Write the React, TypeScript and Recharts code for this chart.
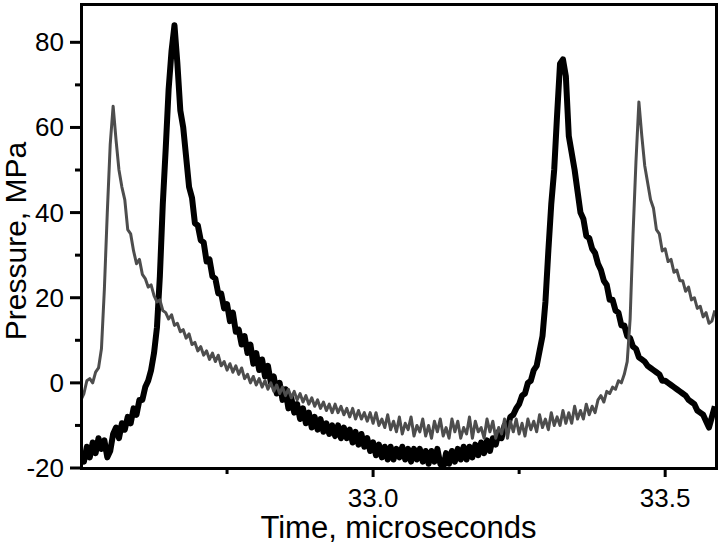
import { LineChart, Line, XAxis, YAxis } from "recharts";

// sampling grid of the traces (microseconds)
const T0 = 32.5;
const DT = 0.005;

// thick black trace, MPa
const blackTrace = [
  -16, -18.5, -15, -17.5, -14, -16.5, -13, -15.5, -13.5, -17.5,
  -16, -12, -10.5, -13, -9.5, -11, -8, -9.5, -6, -7.5,
  -4, -4, -1, 0.5, 3, 7, 13, 25, 42, 55,
  69, 78, 84, 75, 64, 60, 53, 46, 43.5, 37.5,
  37, 33.5, 33, 28.5, 29, 25, 24.5, 21, 21, 17.5,
  18.5, 14.5, 16.5, 12, 12.5, 9, 11, 7, 9, 4.5,
  7, 3, 5.5, 1.5, 4, 0, 1.5, -2.5, 0, -4,
  -1.5, -6, -3.5, -7, -5, -8.5, -6, -9.5, -7, -10.5,
  -8, -11, -8.5, -11.5, -9.5, -12, -10, -12.5, -10, -13,
  -10.5, -13, -11, -14, -11.5, -14.5, -12, -15, -13, -16,
  -14, -17, -14.5, -17.5, -15, -18, -15, -18, -15.5, -17.5,
  -15, -18, -15.5, -18.5, -15.5, -18, -15.5, -18.5, -16, -19,
  -16, -18.5, -15.5, -19, -20, -16.5, -19, -16, -18.5, -15.5,
  -18, -15, -18, -15, -17.5, -14.5, -17, -14, -16.5, -13.5,
  -16, -13, -14.5, -11.5, -13, -10, -10.5, -8, -7.5, -6,
  -5, -3, -2.5, 0, 0.5, 3, 4, 7.5, 11, 19,
  31, 42, 50, 63, 75, 76, 72, 58, 54, 50,
  45, 40, 38.5, 34.5, 34, 31.5, 30.5, 28, 26.5, 24,
  23, 19.5, 19.5, 17, 16.5, 13.5, 13.5, 11, 10.5, 8.5,
  8, 6, 5.5, 5, 4, 3.5, 3, 2.5, 2, 0.5,
  0.5, 0, -0.5, -1, -1.5, -2, -2.5, -3, -4, -4.5,
  -5, -6.5, -7, -7.5, -9, -10.5, -8, -5.5,
];

// thin grey trace, MPa
const greyTrace = [
  -4, -2.5, 0.5, 1, 0, 2.5, 3.5, 8, 22, 40,
  56, 65, 57, 50, 46, 43, 36, 35, 31, 28,
  29, 25.5, 24.5, 22.5, 23, 20.5, 19, 19.5, 17, 16.5,
  15, 16, 13.5, 14, 12, 12.5, 10.5, 11.5, 9, 9.5,
  7.5, 8.5, 6.5, 7.5, 5.5, 7, 5, 6.5, 4, 5,
  3, 4.5, 2.5, 4, 2, 3.5, 1, 2, 0, 1.5,
  -0.5, 1, -1, 0.5, -1.5, 0, -2, -0.5, -2.5, -1,
  -3, -1.5, -3.5, -2, -4, -2.5, -4.5, -3, -5, -3.5,
  -5.5, -4, -6, -4.5, -6.5, -5, -7, -5, -7, -5.5,
  -7.5, -6, -8, -6, -8.5, -6.5, -8.5, -7, -9, -7,
  -9.5, -7, -10, -8.5, -10.5, -7.5, -11, -9, -11.5, -8,
  -12, -9.5, -11, -8, -12.5, -10, -11.5, -8.5, -12.5, -10,
  -13, -9, -11.5, -8.5, -12.5, -10.5, -13, -8.5, -11.5, -9,
  -13, -10.5, -12, -8, -13, -9, -11.5, -10.5, -13, -8.5,
  -11.5, -9, -13, -10.5, -12, -8.5, -13, -9, -11.5, -8.5,
  -12, -9.5, -12.5, -8.5, -11, -9, -11.5, -7.5, -10.5, -8.5,
  -11, -7, -10, -8, -10, -6.5, -9.5, -7, -9.5, -5.5,
  -8.5, -6.5, -8.5, -5, -7.5, -5.5, -7, -4, -3, -4.5,
  -2, -2.5, -1, -1.5, 0.5, 0, 2, 5, 15, 35,
  52, 66, 58, 51, 47, 43, 41, 36, 35, 31,
  31.5, 28.5, 29, 26, 26.5, 24, 24, 21.5, 22.5, 19.5,
  20, 17.5, 18, 15.5, 16.5, 14, 14.5, 17,
];

const xDomain = [32.5, 33.587];
const yDomain = [-20, 89];
const xTicks = [32.75, 33.0, 33.25, 33.5];
const xLabelled = [33.0, 33.5];
const yTicks = [-20, -10, 0, 10, 20, 30, 40, 50, 60, 70, 80];
const yLabelled = [-20, 0, 20, 40, 60, 80];

const data = blackTrace.map((p, i) => ({
  t: +(T0 + i * DT).toFixed(3),
  black: p,
  grey: greyTrace[i],
}));

const FONT = "'Liberation Sans', Arial, sans-serif";

function XTick({ x, y, payload }: any) {
  const major = xLabelled.includes(payload.value);
  return (
    <g>
      <rect x={x - 1.5} y={y} width={3} height={major ? 9 : 6} fill="#000" />
      {major && (
        <text x={x} y={y + 39} textAnchor="middle" fontSize={26} fontFamily={FONT} fill="#000">
          {payload.value.toFixed(1)}
        </text>
      )}
    </g>
  );
}

function YTick({ x, y, payload }: any) {
  const major = yLabelled.includes(payload.value);
  const len = major ? 11 : 6;
  return (
    <g>
      <rect x={x - len} y={y - 1.5} width={len} height={3} fill="#000" />
      {major && (
        <text x={x - 17} y={y + 9} textAnchor="end" fontSize={26} fontFamily={FONT} fill="#000">
          {payload.value}
        </text>
      )}
    </g>
  );
}

function YTitle() {
  return (
    <text
      x={26}
      y={241}
      transform="rotate(-90, 26, 241)"
      textAnchor="middle"
      fontSize={30}
      fontFamily={FONT}
      fill="#000"
    >
      Pressure, MPa
    </text>
  );
}

export default function App() {
  return (
    <div style={{ position: "absolute", left: 0, top: 0, width: 720, height: 546, background: "#fff" }}>
      <LineChart width={720} height={546} data={data} margin={{ top: 4, right: 4, bottom: 0, left: 0 }}>
        <XAxis
          dataKey="t"
          type="number"
          domain={xDomain}
          ticks={xTicks}
          allowDataOverflow
          height={78}
          tickSize={0}
          tickMargin={0}
          tick={<XTick />}
          tickLine={false}
          axisLine={false}
          label={{
            value: "Time, microseconds",
            position: "insideBottom",
            offset: 8,
            fontSize: 31,
            fontFamily: FONT,
            fill: "#000",
          }}
        />
        <YAxis
          type="number"
          domain={yDomain}
          ticks={yTicks}
          allowDataOverflow
          width={81}
          tickSize={0}
          tickMargin={0}
          tick={<YTick />}
          tickLine={false}
          axisLine={false}
          label={<YTitle />}
        />
        <Line
          type="linear"
          dataKey="black"
          stroke="#000"
          strokeWidth={6}
          strokeLinejoin="round"
          dot={false}
          isAnimationActive={false}
        />
        <Line
          type="linear"
          dataKey="grey"
          stroke="#4d4d4d"
          strokeWidth={3}
          strokeLinejoin="round"
          dot={false}
          isAnimationActive={false}
        />
      </LineChart>
      {/* plot frame around the plot area (81..716 x 4..468) */}
      <div
        style={{
          position: "absolute",
          left: 80,
          top: 3,
          width: 638,
          height: 467,
          border: "3px solid #000",
          boxSizing: "border-box",
          pointerEvents: "none",
          zIndex: 10,
        }}
      />
    </div>
  );
}
